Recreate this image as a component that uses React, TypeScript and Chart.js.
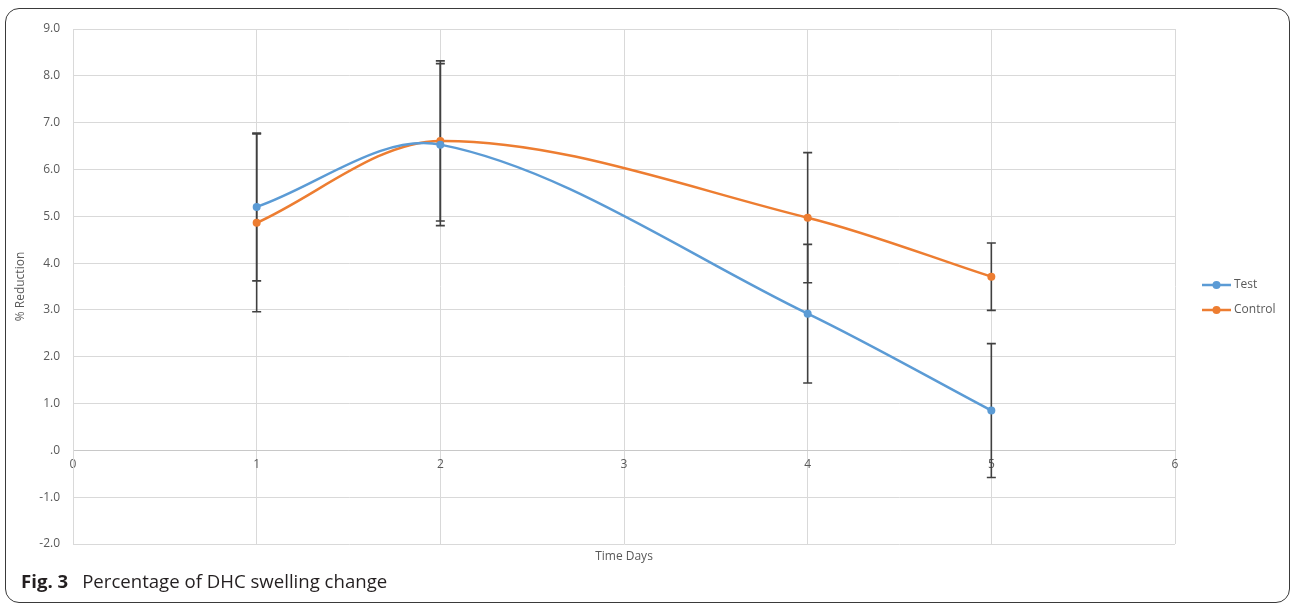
import React, { useEffect, useRef } from "react";
import { Chart, registerables } from "chart.js";

Chart.register(...registerables);

const days = [1, 2, 4, 5];
const testValues = [5.2, 6.53, 2.92, 0.85];
const testErrors = [1.58, 1.73, 1.48, 1.43];
const controlValues = [4.86, 6.61, 4.97, 3.71];
const controlErrors = [1.9, 1.71, 1.39, 0.72];
const seriesNames = ["Test", "Control"];
const seriesColors = ["#5B9BD5", "#ED7D31"];
const yTicksMin = -2;
const yTicksMax = 9;
const xTicksMin = 0;
const xTicksMax = 6;
const xTitle = "Time Days";
const yTitle = "% Reduction";
const captionBold = "Fig. 3";
const captionText = "Percentage of DHC swelling change";

const FONT = '"Open Sans", "DejaVu Sans", sans-serif';
const GREY = "#595959";

const errorBarPlugin = {
  id: "errorBars",
  beforeDatasetsDraw(chart: any) {
    const ctx = chart.ctx;
    const xs = chart.scales.x;
    const ys = chart.scales.y;
    const sets = [
      { v: testValues, e: testErrors },
      { v: controlValues, e: controlErrors },
    ];
    ctx.save();
    ctx.strokeStyle = "#404040";
    ctx.lineWidth = 1.6;
    sets.forEach((s) => {
      days.forEach((d, i) => {
        const px = xs.getPixelForValue(d);
        const top = ys.getPixelForValue(s.v[i] + s.e[i]);
        const bot = ys.getPixelForValue(s.v[i] - s.e[i]);
        ctx.beginPath();
        ctx.moveTo(px, top);
        ctx.lineTo(px, bot);
        ctx.moveTo(px - 4.5, top);
        ctx.lineTo(px + 4.5, top);
        ctx.moveTo(px - 4.5, bot);
        ctx.lineTo(px + 4.5, bot);
        ctx.stroke();
      });
    });
    ctx.restore();
  },
};

const extrasPlugin = {
  id: "extras",
  afterDraw(chart: any) {
    const ctx = chart.ctx;
    const area = chart.chartArea;
    ctx.save();
    ctx.font = `12px ${FONT}`;
    ctx.fillStyle = GREY;
    ctx.textAlign = "center";
    ctx.textBaseline = "middle";
    ctx.fillText(xTitle, (area.left + area.right) / 2, 557);
    // legend
    const legendY = [285, 310];
    seriesNames.forEach((name, i) => {
      const y = legendY[i];
      ctx.strokeStyle = seriesColors[i];
      ctx.lineWidth = 2.5;
      ctx.beginPath();
      ctx.moveTo(1202, y);
      ctx.lineTo(1231, y);
      ctx.stroke();
      ctx.fillStyle = seriesColors[i];
      ctx.beginPath();
      ctx.arc(1216.5, y, 4, 0, Math.PI * 2);
      ctx.fill();
      ctx.fillStyle = GREY;
      ctx.textAlign = "left";
      ctx.fillText(name, 1234, y);
    });
    ctx.restore();
  },
};

export default function App() {
  const ref = useRef<HTMLCanvasElement>(null);

  useEffect(() => {
    if (!ref.current) return;
    const makeData = (vals: number[]) => days.map((d, i) => ({ x: d, y: vals[i] }));
    const chart = new Chart(ref.current, {
      type: "line",
      data: {
        datasets: [
          {
            label: seriesNames[0],
            data: makeData(testValues),
            borderColor: seriesColors[0],
            backgroundColor: seriesColors[0],
            borderWidth: 2.5,
            pointRadius: 4,
            pointBorderWidth: 0,
            tension: 0.33,
          },
          {
            label: seriesNames[1],
            data: makeData(controlValues),
            borderColor: seriesColors[1],
            backgroundColor: seriesColors[1],
            borderWidth: 2.5,
            pointRadius: 4,
            pointBorderWidth: 0,
            tension: 0.33,
          },
        ],
      },
      options: {
        responsive: false,
        animation: false,
        devicePixelRatio: 1,
        layout: { padding: { left: 0, right: 115, top: 29, bottom: 60 } },
        plugins: {
          legend: { display: false },
          tooltip: { enabled: false },
        },
        scales: {
          x: {
            type: "linear",
            position: { y: 0 } as any,
            min: xTicksMin,
            max: xTicksMax,
            ticks: {
              stepSize: 1,
              color: GREY,
              font: { family: FONT, size: 12 },
              padding: 7,
            },
            grid: { color: "#d9d9d9", lineWidth: 1, drawTicks: false },
            border: { display: true, color: "#c8c8c8", width: 1 },
          },
          y: {
            type: "linear",
            position: "left",
            min: yTicksMin,
            max: yTicksMax,
            ticks: {
              stepSize: 1,
              color: GREY,
              font: { family: FONT, size: 12 },
              padding: 13,
              callback: (v: any) => (v === 0 ? ".0" : Number(v).toFixed(1)),
            },
            grid: { color: "#d9d9d9", lineWidth: 1, drawTicks: false },
            border: { display: true, color: "#d9d9d9", width: 1 },
            title: {
              display: true,
              text: yTitle,
              color: GREY,
              font: { family: FONT, size: 12 },
              padding: { top: 13, bottom: 0 },
            },
            afterFit: (scale: any) => {
              scale.width = 73;
            },
          },
        },
      },
      plugins: [errorBarPlugin, extrasPlugin],
    });
    return () => chart.destroy();
  }, []);

  return (
    <div
      style={{
        position: "fixed",
        left: 0,
        top: 0,
        width: 1290,
        height: 604,
        background: "#fff",
        overflow: "hidden",
      }}
    >
      <div
        style={{
          position: "absolute",
          left: 5,
          top: 8,
          width: 1285,
          height: 595,
          boxSizing: "border-box",
          border: "1.5px solid #3a3a3a",
          borderRadius: 14,
        }}
      />
      <canvas
        ref={ref}
        width={1290}
        height={604}
        style={{ position: "absolute", left: 0, top: 0, width: 1290, height: 604 }}
      />
      <div
        style={{
          position: "absolute",
          left: 21,
          top: 570,
          fontFamily: FONT,
          fontSize: 18.6,
          color: "#231f20",
          whiteSpace: "pre",
          lineHeight: "22px",
        }}
      >
        <span style={{ fontWeight: 700, marginRight: 14 }}>{captionBold}</span>
        {captionText}
      </div>
    </div>
  );
}
